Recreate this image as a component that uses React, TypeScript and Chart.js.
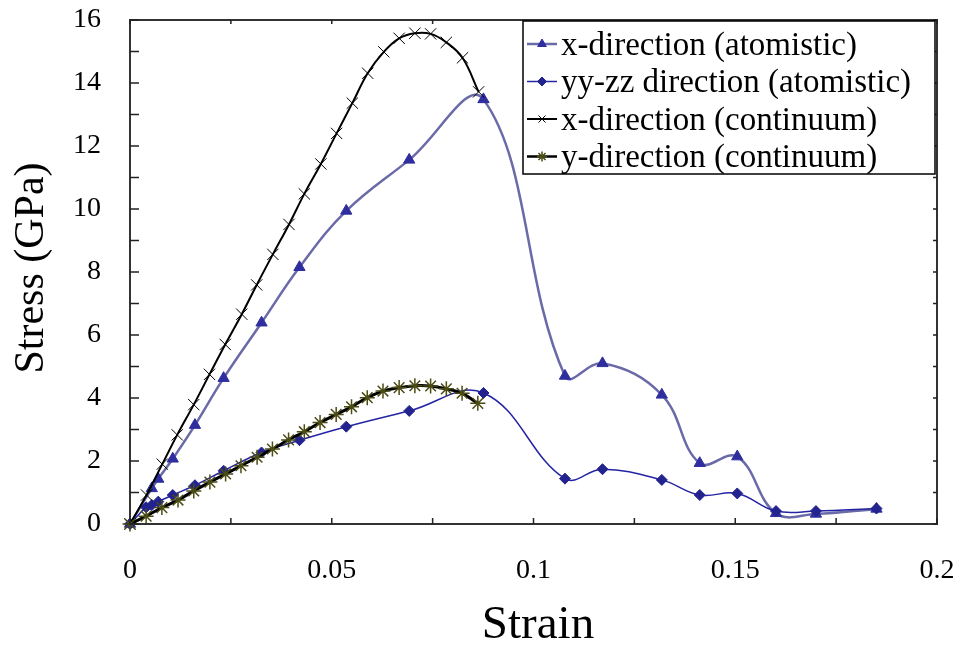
import React, { useEffect, useRef } from "react";
import { Chart, registerables } from "chart.js";
import { drawPoint } from "chart.js/helpers";

Chart.register(...registerables);

// ---- data ----
const xAtomStrain = [0, 0.0054, 0.007, 0.0106, 0.0161, 0.0232, 0.0326, 0.042, 0.0536, 0.0692, 0.0876, 0.1078, 0.1171, 0.1318, 0.1412, 0.1505, 0.1601, 0.17, 0.185];
const xAtomStress = [0, 1.13, 1.43, 2.07, 3.14, 4.63, 6.39, 8.15, 9.94, 11.56, 13.48, 4.7, 5.1, 4.1, 1.93, 2.14, 0.34, 0.32, 0.48];

const yyAtomStrain = [0, 0.004, 0.0054, 0.007, 0.0106, 0.0161, 0.0232, 0.0326, 0.042, 0.0536, 0.0692, 0.0876, 0.1078, 0.1171, 0.1318, 0.1412, 0.1505, 0.1601, 0.17, 0.185];
const yyAtomStress = [0, 0.53, 0.6, 0.71, 0.92, 1.23, 1.69, 2.27, 2.66, 3.09, 3.59, 4.16, 1.44, 1.74, 1.4, 0.92, 0.97, 0.41, 0.41, 0.49];

const xContStrain = [0, 0.0041, 0.008, 0.0117, 0.0158, 0.0197, 0.0236, 0.0277, 0.0314, 0.0354, 0.0394, 0.0432, 0.0473, 0.0512, 0.0551, 0.0589, 0.0629, 0.0667, 0.0706, 0.0745, 0.0784, 0.0824, 0.0864];
const xContStress = [0, 0.92, 1.9, 2.83, 3.79, 4.75, 5.7, 6.66, 7.59, 8.56, 9.51, 10.48, 11.43, 12.4, 13.36, 14.31, 14.99, 15.42, 15.58, 15.56, 15.29, 14.8, 13.72];

const yContStrain = [0, 0.004, 0.0079, 0.0119, 0.0158, 0.0198, 0.0237, 0.0275, 0.0315, 0.0353, 0.0393, 0.0432, 0.0471, 0.0511, 0.0549, 0.0588, 0.0627, 0.0667, 0.0706, 0.0745, 0.0784, 0.0823, 0.0862];
const yContStress = [0, 0.25, 0.52, 0.76, 1.05, 1.33, 1.59, 1.85, 2.12, 2.38, 2.67, 2.93, 3.22, 3.48, 3.72, 4.01, 4.22, 4.33, 4.39, 4.38, 4.29, 4.15, 3.83];

const seriesNames = ["x-direction (atomistic)", "yy-zz direction (atomistic)", "x-direction (continuum)", "y-direction (continuum)"];
const xTitle = "Strain";
const yTitle = "Stress (GPa)";
const xMinorTicks = [0, 0.025, 0.05, 0.075, 0.1, 0.125, 0.15, 0.175, 0.2];
const yMinorTicks = [0, 1, 2, 3, 4, 5, 6, 7, 8, 9, 10, 11, 12, 13, 14, 15, 16];

const SERIF = '"Liberation Serif", "Times New Roman", serif';

const zip = (xs: number[], ys: number[]) => xs.map((x, i) => ({ x, y: ys[i] }));

const styles = [
  { line: "#6a6aa8", lw: 2.5, point: "triangle", pc: "#2e2e9e", pb: "#2e2e9e", r: 6.5, pbw: 1, lr: 5 },
  { line: "#2424a4", lw: 1.5, point: "rectRot", pc: "#23238f", pb: "#23238f", r: 5.5, pbw: 1, lr: 4.5 },
  { line: "#000000", lw: 2, point: "crossRot", pc: "#000000", pb: "#000000", r: 8, pbw: 1, lr: 5 },
  { line: "#000000", lw: 3, point: "star", pc: "#4b4b14", pb: "#4b4b14", r: 7.5, pbw: 1.5, lr: 5 },
];

const noPad = (s: any) => {
  s.paddingTop = 0;
  s.paddingBottom = 0;
  s.paddingLeft = 0;
  s.paddingRight = 0;
};

const framePlugin = {
  id: "frameLegendTitles",
  afterDatasetsDraw(chart: any) {
    const ctx = chart.ctx as CanvasRenderingContext2D;
    const { left, right, top, bottom } = chart.chartArea;
    const xs = chart.scales.x;
    const ys = chart.scales.y;
    ctx.save();
    // frame
    ctx.strokeStyle = "#333";
    ctx.lineWidth = 2;
    ctx.strokeRect(left, top, right - left, bottom - top);
    // ticks
    ctx.lineWidth = 1.5;
    ctx.strokeStyle = "#222";
    ctx.beginPath();
    yMinorTicks.forEach((v) => {
      const py = ys.getPixelForValue(v);
      ctx.moveTo(left, py);
      ctx.lineTo(left + 9, py);
      ctx.moveTo(right, py);
      ctx.lineTo(right - 4, py);
    });
    xMinorTicks.forEach((v) => {
      const px = xs.getPixelForValue(v);
      ctx.moveTo(px, bottom);
      ctx.lineTo(px, bottom - 6);
      ctx.moveTo(px, top);
      ctx.lineTo(px, top + 4);
    });
    ctx.stroke();

    // legend
    const bx = 523, by = 21, bw = 412, bh = 153;
    ctx.fillStyle = "#fff";
    ctx.fillRect(bx, by, bw, bh);
    ctx.strokeStyle = "#000";
    ctx.lineWidth = 1.5;
    ctx.strokeRect(bx, by, bw, bh);
    ctx.font = `33px ${SERIF}`;
    ctx.textBaseline = "middle";
    ctx.textAlign = "left";
    seriesNames.forEach((name, i) => {
      const cy = by + 23 + i * 37.5;
      const s = styles[i];
      ctx.strokeStyle = s.line;
      ctx.lineWidth = Math.min(s.lw, 2.5);
      ctx.beginPath();
      ctx.moveTo(bx + 4, cy);
      ctx.lineTo(bx + 34, cy);
      ctx.stroke();
      ctx.fillStyle = s.pc;
      ctx.strokeStyle = s.pb;
      ctx.lineWidth = s.pbw;
      drawPoint(ctx, { pointStyle: s.point as any, rotation: 0, radius: s.lr, borderWidth: s.pbw }, bx + 19, cy);
      ctx.fillStyle = "#000";
      ctx.fillText(name, bx + 38, cy + 2);
    });

    // titles
    ctx.fillStyle = "#000";
    ctx.font = `47px ${SERIF}`;
    ctx.textAlign = "center";
    ctx.textBaseline = "middle";
    ctx.fillText(xTitle, 538, 626);
    ctx.save();
    ctx.translate(32, 268);
    ctx.rotate(-Math.PI / 2);
    ctx.font = `42px ${SERIF}`;
    ctx.fillText(yTitle, 0, 0);
    ctx.restore();
    ctx.restore();
  },
};

export default function App() {
  const ref = useRef<HTMLCanvasElement>(null);
  useEffect(() => {
    if (!ref.current) return;
    const data = [zip(xAtomStrain, xAtomStress), zip(yyAtomStrain, yyAtomStress), zip(xContStrain, xContStress), zip(yContStrain, yContStress)];
    const chart = new Chart(ref.current, {
      type: "scatter",
      data: {
        datasets: data.map((d, i) => ({
          label: seriesNames[i],
          data: d,
          showLine: true,
          tension: 0.4,
          borderColor: styles[i].line,
          borderWidth: styles[i].lw,
          pointStyle: styles[i].point as any,
          pointRadius: styles[i].r,
          pointBackgroundColor: styles[i].pc,
          pointBorderColor: styles[i].pb,
          pointBorderWidth: styles[i].pbw,
          clip: false as any,
          order: 4 - i,
        })),
      },
      options: {
        animation: false,
        responsive: false,
        devicePixelRatio: 1,
        layout: { padding: { top: 20, right: 28, left: 0, bottom: 0 } },
        plugins: { legend: { display: false }, tooltip: { enabled: false } },
        scales: {
          x: {
            type: "linear",
            min: 0,
            max: 0.2,
            border: { display: false },
            grid: { display: false, drawTicks: false },
            ticks: {
              stepSize: 0.05,
              padding: 30,
              color: "#000",
              font: { family: SERIF, size: 28 },
              callback: (v: any) => String(Math.round(Number(v) * 1000) / 1000),
            },
            afterFit: (s: any) => { s.height = 131; noPad(s); },
          },
          y: {
            type: "linear",
            min: 0,
            max: 16,
            border: { display: false },
            grid: { display: false, drawTicks: false },
            ticks: {
              stepSize: 2,
              padding: 29,
              color: "#000",
              font: { family: SERIF, size: 28 },
            },
            afterFit: (s: any) => { s.width = 130; noPad(s); },
          },
        },
      },
      plugins: [framePlugin],
    });
    return () => chart.destroy();
  }, []);
  return (
    <div style={{ position: "fixed", left: 0, top: 0, width: 965, height: 655, background: "#fff" }}>
      <canvas ref={ref} width={965} height={655} style={{ width: 965, height: 655 }} />
    </div>
  );
}
